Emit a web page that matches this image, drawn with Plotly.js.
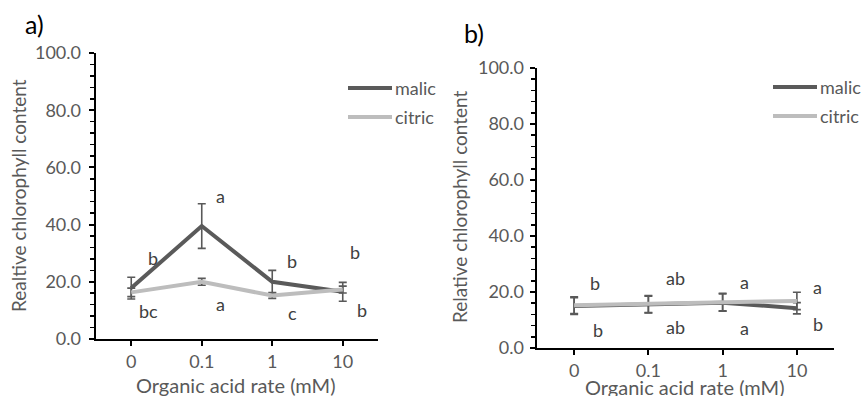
<!DOCTYPE html>
<html>
<head>
<meta charset="utf-8">
<script src="https://cdn.plot.ly/plotly-3.0.1.min.js"></script>
<style>html,body{margin:0;padding:0;background:#fff;}#chart{width:861px;height:396px;}</style>
</head>
<body>
<div id="chart"></div>
<script>
// ---- data ----
const categories = ['0', '0.1', '1', '10'];
const seriesNames = ['malic', 'citric'];
// panel a
const malicA = [17.8, 39.5, 20.0, 16.5];
const malicAErr = [3.8, 7.8, 4.0, 3.3];
const citricA = [16.3, 20.0, 15.2, 17.3];
const citricAErr = [1.5, 1.2, 1.0, 1.2];
const lettersAAbove = ['b', 'a', 'b', 'b'];
const lettersABelow = ['bc', 'a', 'c', 'b'];
// panel b
const malicB = [15.0, 15.5, 16.2, 14.2];
const malicBErr = [3.0, 3.0, 3.1, 2.0];
const citricB = [15.3, 15.7, 16.4, 16.8];
const citricBErr = [3.0, 3.05, 3.15, 3.1];
const lettersBAbove = ['b', 'ab', 'a', 'a'];
const lettersBBelow = ['b', 'ab', 'a', 'b'];
const panelLabels = ['a)', 'b)'];
const yTitles = ['Realtive chlorophyll content', 'Relative chlorophyll content'];
const xTitle = 'Organic acid rate (mM)';

// ---- styling ----
const W = 861, H = 396;
const FONT = 'Lato, "Open Sans", sans-serif';
const GREY = '#595959';
const colors = {malic: '#5a5a5a', citric: '#bdbdbd'};
const px = x => x / W;
const py = y => 1 - y / H;

function trace(y, err, name, xa, ya) {
  return {
    type: 'scatter', mode: 'lines', x: categories, y: y, name: name,
    xaxis: xa, yaxis: ya, showlegend: false, hoverinfo: 'skip',
    line: {color: colors[name], width: 4},
    error_y: {type: 'data', array: err, visible: true, color: '#595959', thickness: 1.6, width: 4}
  };
}
// invisible companion so the label-only axes get drawn
function ghost(y, xa, ya) {
  return {type: 'scatter', mode: 'lines', x: categories, y: y, xaxis: xa, yaxis: ya,
    showlegend: false, hoverinfo: 'skip', line: {color: 'rgba(0,0,0,0)', width: 0}};
}

const data = [
  trace(malicA, malicAErr, 'malic', 'x', 'y'),
  trace(citricA, citricAErr, 'citric', 'x', 'y'),
  trace(malicB, malicBErr, 'malic', 'x2', 'y2'),
  trace(citricB, citricBErr, 'citric', 'x2', 'y2'),
  ghost(malicA, 'x', 'y3'),
  ghost(malicB, 'x2', 'y4')
];

function xAxis(domain, anchor) {
  return {
    domain: domain, anchor: anchor, type: 'category', range: [-0.5, 3.5],
    showline: true, linecolor: '#000', linewidth: 2, mirror: false,
    ticks: 'outside', ticklen: 5, tickwidth: 2, tickcolor: '#000',
    tickfont: {family: FONT, size: 18, color: GREY},
    showgrid: false, zeroline: false, fixedrange: true
  };
}
// axis line + ticks
function yAxis(domain, anchor) {
  return {
    domain: domain, anchor: anchor, range: [0, 100], dtick: 20, tick0: 0,
    showticklabels: false,
    showline: true, linecolor: '#000', linewidth: 2,
    ticks: 'outside', ticklen: 5, tickwidth: 2, tickcolor: '#000',
    minor: {dtick: 4, ticks: 'outside', ticklen: 4, tickwidth: 1.5, tickcolor: '#000', showgrid: false},
    showgrid: false, zeroline: false, fixedrange: true
  };
}
// tick labels only, placed slightly away from the axis line
function yLabelAxis(over, posPx) {
  return {
    overlaying: over, anchor: 'free', position: px(posPx), side: 'left',
    range: [0, 100], dtick: 20, tick0: 0, tickformat: '.1f',
    showline: false, ticks: '', showgrid: false, zeroline: false, fixedrange: true,
    tickfont: {family: FONT, size: 18, color: GREY}
  };
}

const annotations = [];
const shapes = [];
function letters(arr, offsets, ys, xref, yref) {
  arr.forEach((t, i) => annotations.push({
    text: t, x: i + offsets[i], y: ys[i], xref: xref, yref: yref,
    xanchor: 'center', yanchor: 'middle',
    showarrow: false, font: {family: FONT, size: 18, color: '#404040'}
  }));
}
letters(lettersAAbove, [0.31, 0.27, 0.28, 0.17], [28.3, 50, 27.3, 30.4], 'x', 'y');
letters(lettersABelow, [0.25, 0.26, 0.29, 0.27], [9.8, 12.2, 9.1, 10.1], 'x', 'y');
letters(lettersBAbove, [0.28, 0.37, 0.30, 0.28], [23.3, 25.1, 23.7, 21.9], 'x2', 'y2');
letters(lettersBBelow, [0.32, 0.37, 0.30, 0.28], [6.5, 7.6, 7.25, 8.7], 'x2', 'y2');

function paperText(text, x, y, size, color, angle, xanchor) {
  annotations.push({text: text, x: px(x), y: py(y), xref: 'paper', yref: 'paper',
    xanchor: xanchor || 'center', yanchor: 'middle', textangle: angle || 0,
    showarrow: false, font: {family: FONT, size: size, color: color}});
}
// panel labels
paperText(panelLabels[0], 34, 24, 25, '#000');
paperText(panelLabels[1], 474, 33, 25, '#000');
// axis titles
paperText(yTitles[0], 18, 196, 19, GREY, -90);
paperText(yTitles[1], 459, 206, 19, GREY, -90);
paperText(xTitle, 236, 385, 20, GREY);
paperText(xTitle, 685, 387, 20, GREY);

// manual legends
function legend(x0, x1, ys) {
  seriesNames.forEach((n, i) => {
    shapes.push({type: 'line', xref: 'paper', yref: 'paper', x0: px(x0), x1: px(x1), y0: py(ys[i]), y1: py(ys[i]),
      line: {color: colors[n], width: 4}});
    paperText(n, x1 + 1, ys[i], 18, GREY, 0, 'left');
  });
}
legend(348, 392, [88, 117]);
legend(773, 817, [87, 116]);

const layout = {
  width: W, height: H, margin: {l: 0, r: 0, t: 0, b: 0},
  paper_bgcolor: '#fff', plot_bgcolor: '#fff', showlegend: false,
  font: {family: FONT, color: GREY},
  xaxis: xAxis([px(96), px(378)], 'y'),
  yaxis: yAxis([1 - 339 / H, 1 - 53 / H], 'x'),
  xaxis2: xAxis([px(537), px(834)], 'y2'),
  yaxis2: yAxis([1 - 348 / H, 1 - 68 / H], 'x2'),
  yaxis3: yLabelAxis('y', 81),
  yaxis4: yLabelAxis('y2', 524),
  annotations: annotations, shapes: shapes
};

Plotly.newPlot('chart', data, layout, {staticPlot: true, displayModeBar: false});
</script>
</body>
</html>
